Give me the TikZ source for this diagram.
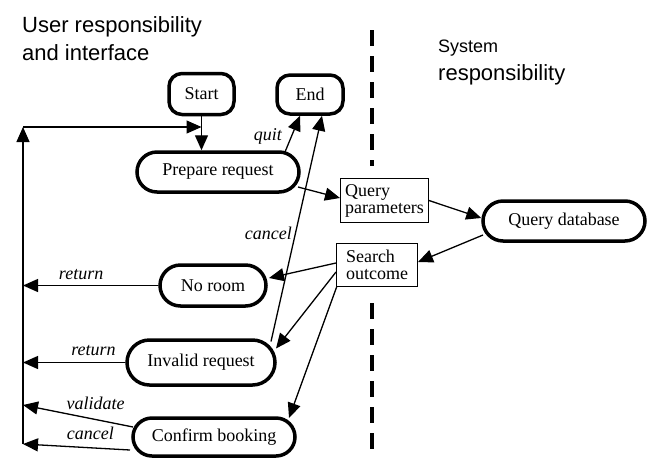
\documentclass[tikz,border=0pt]{standalone}
\usepackage{fontspec}
\setmainfont{Liberation Serif}
\setsansfont{Liberation Sans}
\usetikzlibrary{arrows.meta,positioning,shapes.misc,calc}

\begin{document}
\begin{tikzpicture}[
  x=1pt, y=-1pt, >={Triangle[length=15pt,width=13pt]},
  every node/.append style={font=\fontsize{18}{20}\selectfont},
  state/.style={draw, line width=3.5pt, rounded rectangle, minimum height=40pt, inner sep=2pt},
  term/.style={draw, line width=3.5pt, rounded corners=13pt, minimum width=65pt, minimum height=41pt, inner sep=2pt},
  store/.style={draw, line width=1pt, align=left, inner sep=2pt, font=\fontsize{18}{17}\selectfont},
  flow/.style={->, line width=1.3pt},
  lbl/.style={font=\fontsize{18}{20}\selectfont\itshape, inner sep=2pt},
  title/.style={anchor=base west, inner sep=0pt},
  divider/.style={line width=3.5pt, dash pattern=on 16pt off 10pt},
]
\useasboundingbox (0,0) rectangle (656,459);
% headings
\node[title, font=\sffamily\fontsize{22}{26}\selectfont] (usrtitle) at (22,32) {User responsibility};
\node[title, font=\sffamily\fontsize{22}{26}\selectfont] (usrtitle2) at (22,60) {and interface};
\node[title, font=\sffamily\fontsize{18}{20}\selectfont] (systitle) at (438,52) {System};
\node[title, font=\sffamily\fontsize{22}{26}\selectfont] (systitle2) at (438,80) {responsibility};
% boundary
\draw[divider] (372,30) -- (372,166);
\draw[divider] (372,303) -- (372,459);
% user side
\node[term] (start) at (201.5,94) {Start};
\node[term, minimum width=66pt, minimum height=39pt] (endn) at (310,94.5) {End};
\node[state, minimum width=166pt] (prep) at (218,172) {Prepare request};
\node[state, minimum width=110pt, minimum height=41pt] (noroom) at (213,285.5) {No room};
\node[state, minimum width=152pt, minimum height=45pt] (invalid) at (201,362.5) {Invalid request};
\node[state, minimum width=166pt, minimum height=38pt] (confirm) at (214,437) {Confirm booking};
% data and system side
\node[store, minimum width=88pt, minimum height=44pt] (qparam) at (384.5,200.5) {Query\\parameters};
\node[store, minimum width=81pt, minimum height=43pt] (sout) at (377,265) {Search\\outcome};
\node[state, minimum width=166pt] (qdb) at (564,221) {Query database};
% return rail
\coordinate (railtop) at (23,127);
\coordinate (railbot) at (23,444);
\coordinate (railval) at (23,405);
\coordinate (join) at (railtop -| start.south);
\draw[flow] (railbot) -- (railtop);
\draw[flow] (railtop) -- (join);
% flows
\draw[flow] (start.south) -- (start.south |- prep.north);
\draw[flow] ($(prep.center)+(67,-20)$) -- node[lbl, left=7pt, pos=0.44]{quit} ($(endn.south)+(-10,0)$);
\draw[flow] ($(invalid.center)+(70,-21)$) -- node[lbl, left=1pt, pos=0.48]{cancel} ($(endn.south)+(12,0)$);
\draw[flow] ($(prep.center)+(80,15)$) -- ($(qparam.west)+(0,-2.5)$);
\draw[flow] (qparam.east) -- ($(qdb.west)+(0,-3)$);
\draw[flow] ($(qdb.center)+(-81,14)$) -- ($(sout.east)+(0,-3)$);
\draw[flow] ($(sout.west)+(0,-2)$) -- ($(noroom.center)+(56,-7.5)$);
\draw[flow] ($(sout.west)+(0,7)$) -- ($(invalid.center)+(75,-14)$);
\draw[flow] ($(sout.south west)+(1,-1)$) -- ($(confirm.center)+(75,-19)$);
% back to the rail
\draw[flow] (noroom.west) -- node[lbl, above=3pt, pos=0.57]{return} (noroom.west -| railbot);
\draw[flow] (invalid.west) -- node[lbl, above=4pt, pos=0.31]{return} (invalid.west -| railbot);
\draw[flow] ($(confirm.center)+(-81,-10)$) -- node[lbl, above=7pt, pos=0.34]{validate} (railval);
\draw[flow] ($(confirm.center)+(-84,13)$) -- node[lbl, above=5pt, pos=0.37]{cancel} (railbot);
\end{tikzpicture}
\end{document}
